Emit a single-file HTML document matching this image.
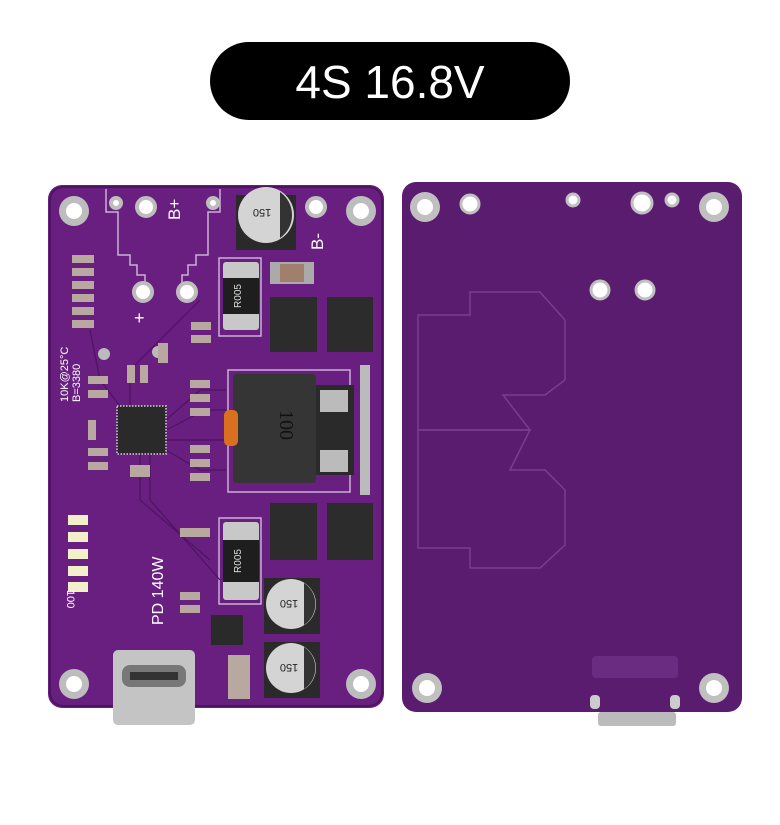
<!DOCTYPE html>
<html><head><meta charset="utf-8"><style>
html,body{margin:0;padding:0;background:#fff;width:780px;height:825px;overflow:hidden}
svg{display:block}
</style></head><body>
<svg width="780" height="825" viewBox="0 0 780 825" xmlns="http://www.w3.org/2000/svg">
<rect x="210" y="42" width="360" height="78" rx="39" fill="#000"/>
<text x="390" y="98" font-family="Liberation Sans, sans-serif" font-size="46" fill="#fff" text-anchor="middle">4S 16.8V</text>

<!-- left board -->
<rect x="48" y="185" width="336" height="523" rx="14" fill="#681f80"/>
<rect x="50" y="187" width="332" height="519" rx="13" fill="none" stroke="#4d1460" stroke-width="2"/>
<g fill="none" stroke="#c9b0d4" stroke-width="1.5">
<path d="M106 189 V212 H118 V255 H130 V265 H137 V275 H145 V300 M220 189 V212 H208 V255 H196 V265 H188 V275 H182 V300"/>
<rect x="228" y="370" width="122" height="122"/>
<rect x="219" y="258" width="42" height="78"/>
<rect x="219" y="518" width="42" height="86"/>
</g>
<g stroke="#4d1460" stroke-width="1.2" fill="none">
<path d="M166 420 L200 390 H226 M166 430 L205 410 H226 M166 440 L205 440 H226 M166 450 L200 470 H226 M140 454 L140 500 L210 560 M150 454 L150 500 L220 580 M130 406 L130 370 L200 300 M120 406 L100 380 L90 330"/>
</g>
<!-- mounting holes -->
<g fill="#bdbdbd"><circle cx="74" cy="211" r="15"/><circle cx="361" cy="211" r="15"/><circle cx="74" cy="684" r="15"/><circle cx="361" cy="684" r="15"/></g>
<g fill="#fff"><circle cx="74" cy="211" r="8"/><circle cx="361" cy="211" r="8"/><circle cx="74" cy="684" r="8"/><circle cx="361" cy="684" r="8"/></g>
<g fill="#fff" stroke="#bdbdbd" stroke-width="4">
<circle cx="116" cy="203" r="5"/><circle cx="146" cy="207" r="9"/><circle cx="213" cy="203" r="5"/><circle cx="316" cy="207" r="9"/><circle cx="143" cy="292" r="9"/><circle cx="187" cy="292" r="9"/>
</g>
<circle cx="104" cy="354" r="6" fill="#bbb"/><circle cx="158" cy="352" r="6" fill="#bbb"/>
<!-- top cap -->
<rect x="236" y="195" width="60" height="55" fill="#2a2a2a"/>
<circle cx="266" cy="215" r="28" fill="#d4d4d4"/>
<path d="M280 192 A28 28 0 0 1 280 238 Z" fill="#333"/>
<text x="262" y="215" font-family="Liberation Sans,sans-serif" font-size="11" fill="#222" text-anchor="middle" transform="rotate(180 262 212)">150</text>
<!-- R005 top -->
<rect x="223" y="262" width="36" height="68" rx="3" fill="#c8c8c8"/>
<rect x="223" y="278" width="36" height="36" fill="#1e1e1e"/>
<text x="241" y="296" font-family="Liberation Sans,sans-serif" font-size="10" fill="#ddd" text-anchor="middle" transform="rotate(-90 241 296)">R005</text>
<rect x="270" y="262" width="44" height="22" fill="#aaa"/><rect x="280" y="264" width="24" height="18" fill="#a07f6d"/>
<!-- mosfets -->
<g fill="#2c2c2c"><rect x="270" y="297" width="47" height="55"/><rect x="327" y="297" width="46" height="55"/><rect x="270" y="503" width="47" height="57"/><rect x="327" y="503" width="46" height="57"/></g>
<!-- inductor -->
<rect x="316" y="385" width="38" height="90" fill="#2a2a2a"/>
<rect x="233" y="374" width="83" height="109" rx="3" fill="#353535"/>
<rect x="224" y="410" width="14" height="36" rx="5" fill="#d87020"/>
<rect x="320" y="390" width="28" height="22" fill="#bbb"/><rect x="320" y="450" width="28" height="22" fill="#bbb"/>
<text x="280" y="425" font-family="Liberation Serif,serif" font-size="20" fill="#111" text-anchor="middle" transform="rotate(90 280 425)">100</text>
<!-- IC -->
<rect x="117" y="406" width="49" height="48" fill="#2a2a2a" stroke="#aaa" stroke-width="2" stroke-dasharray="1.5 1.5"/>
<!-- small passives -->
<g fill="#b8a8a0">
<rect x="72" y="255" width="22" height="8"/><rect x="72" y="268" width="22" height="8"/><rect x="72" y="281" width="22" height="8"/><rect x="72" y="294" width="22" height="8"/><rect x="72" y="307" width="22" height="8"/><rect x="72" y="320" width="22" height="8"/>
<rect x="191" y="322" width="20" height="8"/><rect x="191" y="335" width="20" height="8"/><rect x="158" y="343" width="10" height="20"/><rect x="127" y="365" width="8" height="18"/><rect x="140" y="365" width="8" height="18"/>
<rect x="88" y="376" width="20" height="8"/><rect x="88" y="390" width="20" height="8"/>
<rect x="190" y="380" width="20" height="8"/><rect x="190" y="394" width="20" height="8"/><rect x="190" y="408" width="20" height="8"/>
<rect x="190" y="445" width="20" height="8"/><rect x="190" y="459" width="20" height="8"/><rect x="190" y="473" width="20" height="8"/>
<rect x="88" y="420" width="8" height="20"/><rect x="88" y="448" width="20" height="8"/><rect x="88" y="462" width="20" height="8"/><rect x="130" y="465" width="20" height="12"/>
<rect x="180" y="528" width="30" height="9"/><rect x="180" y="592" width="20" height="8"/><rect x="180" y="605" width="20" height="8"/>
<rect x="228" y="655" width="22" height="44"/>
<g fill="#bbb"><rect x="360" y="365" width="10" height="130"/></g>
</g>
<!-- LEDs -->
<g fill="#f2f0c8"><rect x="68" y="515" width="20" height="10"/><rect x="68" y="532" width="20" height="10"/><rect x="68" y="549" width="20" height="10"/><rect x="68" y="566" width="20" height="10"/><rect x="68" y="582" width="20" height="10"/></g>
<!-- R005 bottom -->
<rect x="223" y="522" width="36" height="78" rx="3" fill="#c8c8c8"/>
<rect x="223" y="540" width="36" height="42" fill="#1e1e1e"/>
<text x="241" y="561" font-family="Liberation Sans,sans-serif" font-size="10" fill="#ddd" text-anchor="middle" transform="rotate(-90 241 561)">R005</text>
<!-- bottom caps -->
<rect x="264" y="578" width="56" height="56" fill="#2a2a2a"/><rect x="264" y="642" width="56" height="56" fill="#2a2a2a"/>
<circle cx="291" cy="604" r="25" fill="#d4d4d4"/><circle cx="291" cy="668" r="25" fill="#d4d4d4"/>
<path d="M304 583 A25 25 0 0 1 304 625 Z" fill="#333"/><path d="M304 647 A25 25 0 0 1 304 689 Z" fill="#333"/>
<text x="289" y="608" font-family="Liberation Sans,sans-serif" font-size="11" fill="#222" text-anchor="middle" transform="rotate(180 289 604)">150</text>
<text x="289" y="672" font-family="Liberation Sans,sans-serif" font-size="11" fill="#222" text-anchor="middle" transform="rotate(180 289 668)">150</text>
<!-- small IC + usb -->
<rect x="211" y="615" width="32" height="30" fill="#2a2a2a"/>
<rect x="113" y="650" width="82" height="75" rx="5" fill="#c4c4c4"/>
<rect x="122" y="665" width="64" height="22" rx="8" fill="#777"/>
<rect x="130" y="672" width="48" height="8" fill="#333"/>
<!-- labels -->
<g font-family="Liberation Sans,sans-serif" fill="#fff">
<text x="0" y="0" font-size="17" transform="translate(180 220) rotate(-90)">B+</text>
<text x="0" y="0" font-size="17" transform="translate(323 250) rotate(-90)">B-</text>
<text x="134" y="324" font-size="18">+</text>
<text x="0" y="0" font-size="16" transform="translate(163 625) rotate(-90)">PD 140W</text>
<text x="0" y="0" font-size="11" transform="translate(68 402) rotate(-90)">10K@25°C</text>
<text x="0" y="0" font-size="11" transform="translate(80 402) rotate(-90)">B=3380</text>
<text x="0" y="0" font-size="11" transform="translate(67 590) rotate(90)">100</text>
</g>

<!-- right board -->
<rect x="402" y="182" width="340" height="530" rx="14" fill="#5a1c6e"/>
<g fill="none" stroke="#7a3c90" stroke-width="1.5">
<path d="M418 315 H470 V292 H540 L565 320 V380 L545 395 H503 L530 430 H418 Z"/>
<path d="M418 430 H530 L510 470 H545 L565 490 V545 L540 568 H470 V548 H418 Z"/>
</g>
<g fill="#c0c0c0"><circle cx="425" cy="207" r="15"/><circle cx="714" cy="207" r="15"/><circle cx="427" cy="688" r="15"/><circle cx="714" cy="688" r="15"/></g>
<g fill="#fff"><circle cx="425" cy="207" r="8"/><circle cx="714" cy="207" r="8"/><circle cx="427" cy="688" r="8"/><circle cx="714" cy="688" r="8"/></g>
<g fill="#fff" stroke="#c0c0c0" stroke-width="3">
<circle cx="470" cy="204" r="9"/><circle cx="573" cy="200" r="6"/><circle cx="642" cy="203" r="10"/><circle cx="672" cy="200" r="6"/><circle cx="600" cy="290" r="9"/><circle cx="645" cy="290" r="9"/>
</g>
<rect x="592" y="656" width="86" height="22" rx="4" fill="#6a2c80"/>
<rect x="590" y="695" width="10" height="14" rx="4" fill="#ccc"/><rect x="670" y="695" width="10" height="14" rx="4" fill="#ccc"/>
<rect x="598" y="712" width="78" height="14" rx="3" fill="#bbb"/>
</svg>
</body></html>
